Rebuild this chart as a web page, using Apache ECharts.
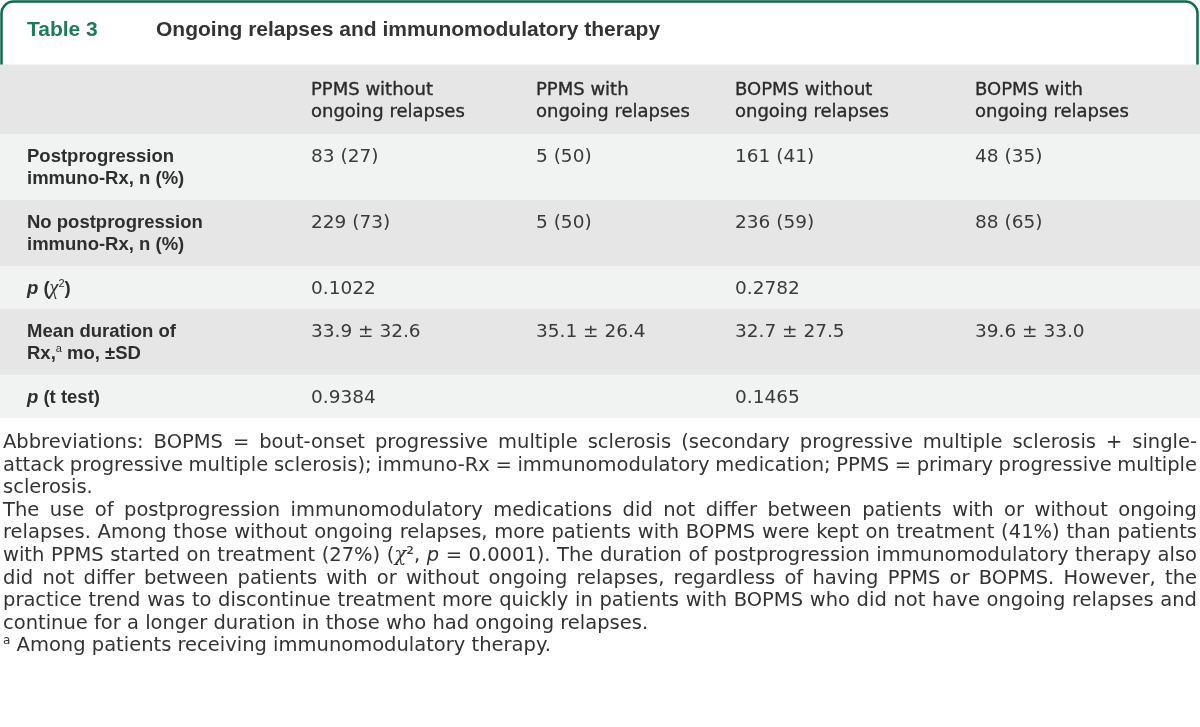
<!DOCTYPE html>
<html><head><meta charset="utf-8">
<script src="https://cdn.jsdelivr.net/npm/echarts@6/dist/echarts.min.js"></script>
<style>html,body{margin:0;padding:0;background:#fff}#c{width:1200px;height:727px}</style>
</head><body><div id="c"></div>
<script>
// ---------- content ----------
const tableNumber = "Table 3";
const tableTitle = "Ongoing relapses and immunomodulatory therapy";
const columnHeaders = [
  "PPMS without\nongoing relapses",
  "PPMS with\nongoing relapses",
  "BOPMS without\nongoing relapses",
  "BOPMS with\nongoing relapses"
];
const rowLabels = [
  "Postprogression\nimmuno-Rx, n (%)",
  "No postprogression\nimmuno-Rx, n (%)",
  "{bi|p} ({chi|χ}{sup|2})",
  "Mean duration of\nRx,{sup|a} mo, ±SD",
  "{bi|p} (t test)"
];
const ppmsWithout  = ["83 (27)", "229 (73)", "0.1022", "33.9 ± 32.6", "0.9384"];
const ppmsWith     = ["5 (50)", "5 (50)", "", "35.1 ± 26.4", ""];
const bopmsWithout = ["161 (41)", "236 (59)", "0.2782", "32.7 ± 27.5", "0.1465"];
const bopmsWith    = ["48 (35)", "88 (65)", "", "39.6 ± 33.0", ""];
const footnoteLines = [
  "Abbreviations: BOPMS = bout-onset progressive multiple sclerosis (secondary progressive multiple sclerosis + single-",
  "attack progressive multiple sclerosis); immuno-Rx = immunomodulatory medication; PPMS = primary progressive multiple",
  "sclerosis.",
  "The use of postprogression immunomodulatory medications did not differ between patients with or without ongoing",
  "relapses. Among those without ongoing relapses, more patients with BOPMS were kept on treatment (41%) than patients",
  "with PPMS started on treatment (27%) ({chi|χ}², {i|p} = 0.0001). The duration of postprogression immunomodulatory therapy also",
  "did not differ between patients with or without ongoing relapses, regardless of having PPMS or BOPMS. However, the",
  "practice trend was to discontinue treatment more quickly in patients with BOPMS who did not have ongoing relapses and",
  "continue for a longer duration in those who had ongoing relapses.",
  "{sup|a} Among patients receiving immunomodulatory therapy."
];
const footnoteJustified = [true, true, false, true, true, true, true, true, false, false];

// ---------- layout / style ----------
const GREEN = '#0f6a4b', GREEN_TEXT = '#1e7a5b';
const GRAY = '#e6e6e6', LIGHT = '#f1f2f2';
const COLS_X = [27, 311, 536, 735, 975];
const HEADER_TOP = 64.5, HEADER_H = 69.5, HEADER_TEXT_OFF = 15;
const ROW_BASE = 20, ROW_LINE = 23, ROW_TEXT_OFF = 12;
const LABEL_FONT = 'Liberation Sans', DATA_FONT = 'DejaVu Sans';
const FN_FONT = 'DejaVu Sans', FN_SIZE = 19.5, FN_TOP = 443, FN_STEP = 22.6, FN_LEFT = 3, FN_RIGHT = 1197;
const SUP_RAISE = 6;

const labelRich = {
  bi:  {fontFamily: LABEL_FONT, fontWeight: 'bold', fontStyle: 'italic', fontSize: 18.5, lineHeight: 22, fill: '#2e2e2e'},
  chi: {fontFamily: 'Liberation Serif', fontWeight: 'normal', fontStyle: 'italic', fontSize: 20, lineHeight: 22, fill: '#2e2e2e'},
  sup: {fontFamily: LABEL_FONT, fontWeight: 'normal', fontSize: 11, lineHeight: 11, verticalAlign: 'top', fill: '#2e2e2e'}
};

// row extents from content line counts
const rowsData = [];
let yCursor = HEADER_TOP;
rowsData.push([yCursor, yCursor + HEADER_H]);
yCursor += HEADER_H;
rowLabels.forEach(lab => {
  const h = ROW_BASE + ROW_LINE * lab.split('\n').length;
  rowsData.push([yCursor, yCursor + h]);
  yCursor += h;
});
const valueColumns = [ppmsWithout, ppmsWith, bopmsWithout, bopmsWith];

// ---------- footnote justification ----------
const mctx = document.createElement('canvas').getContext('2d');
const fnStyles = {
  n:   {fontFamily: FN_FONT, fontSize: FN_SIZE, fontStyle: 'normal', fontWeight: 'normal'},
  i:   {fontFamily: FN_FONT, fontSize: FN_SIZE, fontStyle: 'italic', fontWeight: 'normal'},
  chi: {fontFamily: 'DejaVu Serif', fontSize: FN_SIZE, fontStyle: 'italic', fontWeight: 'normal'},
  sup: {fontFamily: FN_FONT, fontSize: 12, fontStyle: 'normal', fontWeight: 'normal'}
};
function cssFont(s) { return `${s.fontStyle} ${s.fontWeight} ${s.fontSize}px ${s.fontFamily}`; }
function measure(t, s) { mctx.font = cssFont(s); return mctx.measureText(t).width; }
function parseTok(tok) {
  const out = []; const re = /\{(\w+)\|([^}]*)\}/g; let last = 0, m;
  while ((m = re.exec(tok))) {
    if (m.index > last) out.push({s: 'n', t: tok.slice(last, m.index)});
    out.push({s: m[1], t: m[2]}); last = re.lastIndex;
  }
  if (last < tok.length) out.push({s: 'n', t: tok.slice(last)});
  return out;
}
function tokWidth(tok) { return parseTok(tok).reduce((a, p) => a + measure(p.t, fnStyles[p.s]), 0); }
const fnRich = {
  i:   Object.assign({lineHeight: 22, fill: '#333'}, fnStyles.i),
  chi: Object.assign({lineHeight: 22, fill: '#333'}, fnStyles.chi),
  sup: Object.assign({lineHeight: 12, fill: '#333'}, fnStyles.sup)
};
const footGraphics = [];
footnoteLines.forEach((line, k) => {
  const toks = line.split(' ');
  const widths = toks.map(tokWidth);
  const total = widths.reduce((a, b) => a + b, 0);
  const gap = footnoteJustified[k] ? (FN_RIGHT - FN_LEFT - total) / (toks.length - 1) : measure(' ', fnStyles.n);
  let x = FN_LEFT;
  const yc = FN_TOP + FN_STEP * k;
  toks.forEach((tok, j) => {
    const parts = parseTok(tok);
    const supOnly = parts.length === 1 && parts[0].s === 'sup';
    footGraphics.push({
      type: 'text', x: x, y: yc - (supOnly ? SUP_RAISE : 0), silent: true,
      style: Object.assign({text: tok, fill: '#333', lineHeight: supOnly ? 12 : 22, align: 'left', verticalAlign: 'middle', rich: fnRich},
        supOnly ? fnStyles.sup : fnStyles.n)
    });
    x += widths[j] + gap;
  });
});

// ---------- chart ----------
const chart = echarts.init(document.getElementById('c'));
chart.setOption({
  animation: false,
  backgroundColor: '#ffffff',
  grid: {left: 0, right: 0, top: 0, bottom: 0},
  xAxis: {type: 'value', min: 0, max: 1200, show: false},
  yAxis: {type: 'value', min: 0, max: 727, inverse: true, show: false},
  graphic: [
    {type: 'rect', silent: true, z: 0, shape: {x: 1.5, y: 1.5, width: 1196, height: 90, r: [12, 12, 0, 0]},
     style: {fill: 'none', stroke: GREEN, lineWidth: 2.5}},
    {type: 'text', x: 27, y: 30, silent: true, z: 5,
     style: {text: tableNumber, fill: GREEN_TEXT, fontFamily: LABEL_FONT, fontWeight: 'bold', fontSize: 21, verticalAlign: 'middle'}},
    {type: 'text', x: 156, y: 30, silent: true, z: 5,
     style: {text: tableTitle, fill: '#333', fontFamily: LABEL_FONT, fontWeight: 'bold', fontSize: 21, verticalAlign: 'middle'}}
  ].concat(footGraphics),
  series: [{
    type: 'custom',
    coordinateSystem: 'cartesian2d',
    data: rowsData,
    silent: true,
    z: 2,
    renderItem: function (params, api) {
      const i = params.dataIndex;
      const top = api.value(0), bot = api.value(1);
      const a = api.coord([0, top]), b = api.coord([1200, bot]);
      const children = [{type: 'rect', shape: {x: a[0], y: a[1], width: b[0] - a[0], height: b[1] - a[1]},
        style: {fill: i % 2 === 0 ? GRAY : LIGHT}}];
      if (i === 0) {
        columnHeaders.forEach((t, c) => {
          const p = api.coord([COLS_X[c + 1], top]);
          children.push({type: 'text', x: p[0], y: p[1] + HEADER_TEXT_OFF,
            style: {text: t, fill: '#2a2a2a', fontFamily: DATA_FONT, fontSize: 18, lineHeight: 22,
              align: 'left', verticalAlign: 'top', stroke: '#2a2a2a', lineWidth: 0.35}});
        });
      } else {
        const r = i - 1;
        const pl = api.coord([COLS_X[0], top]);
        children.push({type: 'text', x: pl[0], y: pl[1] + ROW_TEXT_OFF,
          style: {text: rowLabels[r], fill: '#2e2e2e', fontFamily: LABEL_FONT, fontWeight: 'bold', fontSize: 18.5,
            lineHeight: 22, align: 'left', verticalAlign: 'top', rich: labelRich}});
        valueColumns.forEach((col, c) => {
          if (!col[r]) return;
          const p = api.coord([COLS_X[c + 1], top]);
          children.push({type: 'text', x: p[0], y: p[1] + ROW_TEXT_OFF,
            style: {text: col[r], fill: '#3a3a3a', fontFamily: DATA_FONT, fontSize: 18.5, lineHeight: 22,
              align: 'left', verticalAlign: 'top'}});
        });
      }
      return {type: 'group', children: children};
    }
  }]
});
</script></body></html>
